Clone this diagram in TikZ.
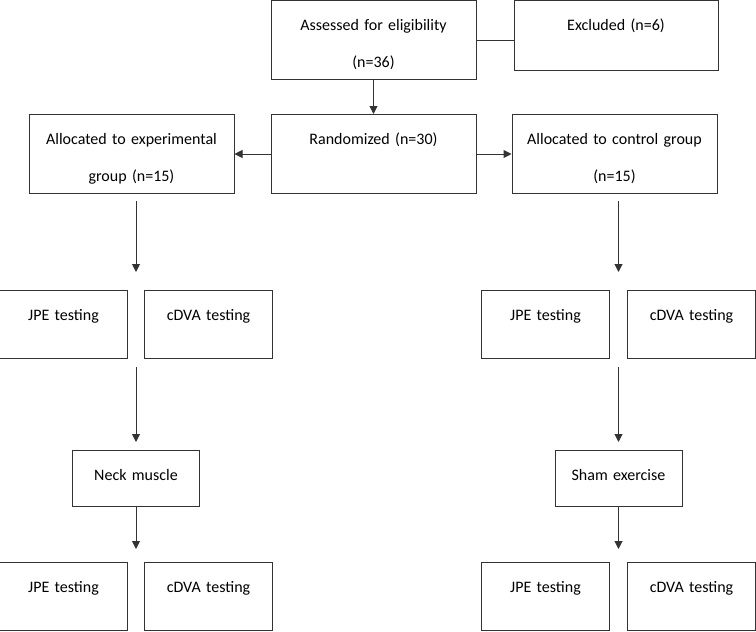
\documentclass[tikz,border=0pt]{standalone}
\usepackage{fontspec}
\setmainfont{Carlito}
\usetikzlibrary{arrows.meta,positioning,calc}

\begin{document}
\begin{tikzpicture}[
        x=1pt, y=-1pt,
        font=\fontsize{16}{36.5}\selectfont,
        >={Triangle[length=8pt,width=8pt]},
        node distance=34pt,
        box/.style={rectangle,draw=black!80,line width=1pt,inner sep=0pt,align=center,text height=30pt},
        bigbox/.style={box,text width=205pt,text depth=49pt},
        sidebox/.style={box,text width=204pt,text depth=40pt},
        testbox/.style={box,text width=128pt,text depth=38pt},
        stagebox/.style={box,text width=127pt,text depth=26pt},
        arrow/.style={->,draw=black!80,line width=1pt},
        link/.style={draw=black!80,line width=1pt}
    ]
        \useasboundingbox (0,0) rectangle (756,632);

        \node[bigbox,anchor=north] (assess) at (373.5,0) {Assessed for eligibility\\(n=36)};
        \node[sidebox,right=37pt of assess.north east,anchor=north west] (excl) {Excluded (n=6)};
        \node[bigbox,below=of assess] (rand) {Randomized (n=30)};
        \node[bigbox,left=36pt of rand] (exper) {Allocated to experimental\\group (n=15)};
        \node[bigbox,right=35pt of rand] (ctrl) {Allocated to control group\\(n=15)};

        % testing before training
        \node[testbox,anchor=north east] (jpeA) at (128,290) {JPE testing};
        \node[testbox,right=16pt of jpeA] (cdvaA) {cDVA testing};
        \node[testbox,anchor=north east] (jpeC) at (610,290) {JPE testing};
        \node[testbox,right=17pt of jpeC] (cdvaC) {cDVA testing};
        \coordinate (gapA) at ($(jpeA.north east)!.5!(cdvaA.north west)$);
        \coordinate (gapAs) at ($(jpeA.south east)!.5!(cdvaA.south west)$);
        \coordinate (gapC) at ($(jpeC.north east)!.5!(cdvaC.north west)$);
        \coordinate (gapCs) at ($(jpeC.south east)!.5!(cdvaC.south west)$);

        \node[stagebox,below=91pt of gapAs] (neck) {Neck muscle};
        \node[stagebox,below=91pt of gapCs] (sham) {Sham exercise};

        % testing after training
        \node[testbox,anchor=north east] (jpeB) at (128,562) {JPE testing};
        \node[testbox,right=16pt of jpeB] (cdvaB) {cDVA testing};
        \node[testbox,anchor=north east] (jpeD) at (610,562) {JPE testing};
        \node[testbox,right=17pt of jpeD] (cdvaD) {cDVA testing};
        \coordinate (gapB) at ($(jpeB.north east)!.5!(cdvaB.north west)$);
        \coordinate (gapD) at ($(jpeD.north east)!.5!(cdvaD.north west)$);

        \draw[link] (assess.east) -- (assess.east -| excl.west);
        \draw[arrow] (assess) -- (rand);
        \draw[arrow] (rand) -- (exper);
        \draw[arrow] (rand) -- (ctrl);

        \draw[arrow,shorten <=7pt,shorten >=18pt] (exper.south -| gapA) -- (gapA);
        \draw[arrow,shorten <=7pt,shorten >=18pt] (ctrl.south -| gapC) -- (gapC);
        \draw[arrow,shorten <=8pt,shorten >=8pt] (gapAs) -- (neck);
        \draw[arrow,shorten <=8pt,shorten >=8pt] (gapCs) -- (sham);
        \draw[arrow,shorten >=13pt] (neck.south) -- (gapB);
        \draw[arrow,shorten >=13pt] (sham.south) -- (gapD);
    \end{tikzpicture}
\end{document}
